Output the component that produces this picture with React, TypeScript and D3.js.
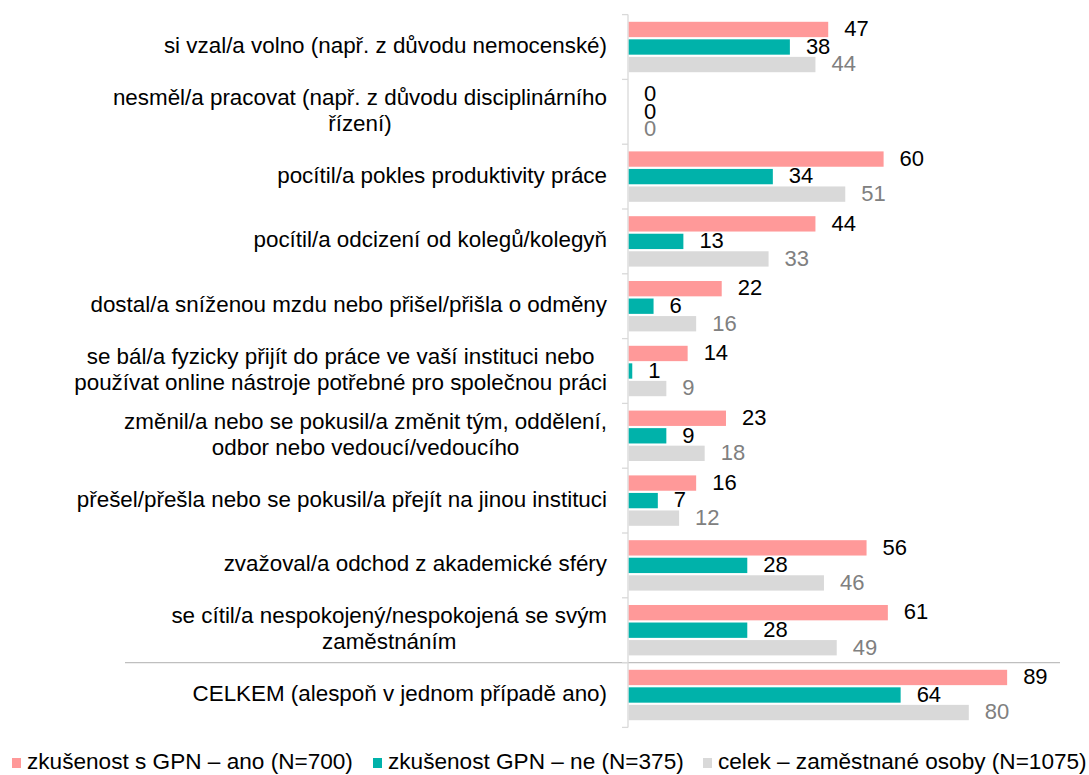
import React from "react";
import * as d3 from "d3";

const categories: string[][] = [
  ["si vzal/a volno (např. z důvodu nemocenské)"],
  ["nesměl/a pracovat (např. z důvodu disciplinárního", "řízení)"],
  ["pocítil/a pokles produktivity práce"],
  ["pocítil/a odcizení od kolegů/kolegyň"],
  ["dostal/a sníženou mzdu nebo přišel/přišla o odměny"],
  ["se bál/a fyzicky přijít do práce ve vaší instituci nebo", "používat online nástroje potřebné pro společnou práci"],
  ["změnil/a nebo se pokusil/a změnit tým, oddělení,", "odbor nebo vedoucí/vedoucího"],
  ["přešel/přešla nebo se pokusil/a přejít na jinou instituci"],
  ["zvažoval/a odchod z akademické sféry"],
  ["se cítil/a nespokojený/nespokojená se svým", "zaměstnáním"],
  ["CELKEM (alespoň v jednom případě ano)"],
];

const seriesNames = [
  "zkušenost s GPN – ano (N=700)",
  "zkušenost GPN – ne (N=375)",
  "celek – zaměstnané osoby (N=1075)",
];
const valuesAno = [47, 0, 60, 44, 22, 14, 23, 16, 56, 61, 89];
const valuesNe = [38, 0, 34, 13, 6, 1, 9, 7, 28, 28, 64];
const valuesCelek = [44, 0, 51, 33, 16, 9, 18, 12, 46, 49, 80];

const colors = ["#FF9999", "#00B2AA", "#D9D9D9"];
const labelColors = ["#000000", "#000000", "#808080"];

const FONT = "'Liberation Sans', Arial, sans-serif";
const CAT_SIZE = 22.4;
const VAL_SIZE = 22;
const LEG_SIZE = 22.6;

function measure(text: string, size: number): number {
  const c = document.createElement("canvas");
  const ctx = c.getContext("2d");
  if (!ctx) return text.length * size * 0.5;
  ctx.font = `${size}px ${FONT}`;
  return ctx.measureText(text).width;
}

export default function App() {
  const width = 1089;
  const height = 775;
  const axisX = 628;
  const top = 14.6;
  const bottom = 727.4;
  const series = [valuesAno, valuesNe, valuesCelek];

  const y = d3
    .scaleBand<number>()
    .domain(d3.range(categories.length))
    .range([top, bottom])
    .paddingInner(0.222)
    .paddingOuter(0.111);
  const ySub = d3
    .scaleBand<number>()
    .domain([0, 1, 2])
    .range([0, y.bandwidth()])
    .paddingInner(0.125)
    .paddingOuter(0);
  const x = d3.scaleLinear().domain([0, 100]).range([axisX, 1054]);

  const step = y.step();
  const boundaries = d3.range(categories.length + 1).map((i) => top + i * step);
  const labelRight = 607;
  const lineH = 25.5;

  const legendX = [12, 373, 703];

  return (
    <div style={{ position: "absolute", left: 0, top: 0 }}>
      <svg width={width} height={height} style={{ display: "block", fontFamily: FONT }}>
        <rect width={width} height={height} fill="#fff" />
        {/* separator */}
        <line x1={125} x2={1060} y1={boundaries[10]} y2={boundaries[10]} stroke="#BFBFBF" strokeWidth={1.3} />
        {/* axis */}
        <line x1={axisX} x2={axisX} y1={top} y2={bottom} stroke="#D9D9D9" strokeWidth={1.3} />
        {boundaries.map((b, i) => (
          <line key={i} x1={axisX - 6} x2={axisX} y1={b} y2={b} stroke="#D9D9D9" strokeWidth={1.3} />
        ))}
        {/* bars */}
        {categories.map((cat, ci) => {
          const y0 = y(ci) as number;
          return (
            <g key={ci}>
              {series.map((vals, si) => {
                const by = y0 + (ySub(si) as number);
                const bh = ySub.bandwidth();
                return (
                  <g key={si}>
                    <rect x={axisX + 0.7} y={by} width={Math.max(0, x(vals[ci]) - axisX - 0.7)} height={bh} fill={colors[si]} />
                    <text
                      x={x(vals[ci]) + 16}
                      y={by + bh / 2 + 1}
                      fontSize={VAL_SIZE}
                      fill={labelColors[si]}
                      dominantBaseline="middle"
                    >
                      {vals[ci]}
                    </text>
                  </g>
                );
              })}
            </g>
          );
        })}
        {/* category labels */}
        {categories.map((lines, ci) => {
          const cy = (y(ci) as number) + y.bandwidth() / 2;
          const maxW = Math.max(...lines.map((l) => measure(l, CAT_SIZE)));
          const cx = labelRight - maxW / 2;
          return (
            <text key={ci} fontSize={CAT_SIZE} fill="#000" textAnchor="middle" dominantBaseline="middle">
              {lines.map((l, li) => (
                <tspan key={li} x={cx} y={cy + (li - (lines.length - 1) / 2) * lineH}>
                  {l}
                </tspan>
              ))}
            </text>
          );
        })}
        {/* legend */}
        {seriesNames.map((n, i) => (
          <g key={i}>
            <rect x={legendX[i]} y={758} width={9} height={10} fill={colors[i]} />
            <text x={legendX[i] + 15} y={763} fontSize={LEG_SIZE} dominantBaseline="middle" fill="#000">
              {n}
            </text>
          </g>
        ))}
      </svg>
    </div>
  );
}
